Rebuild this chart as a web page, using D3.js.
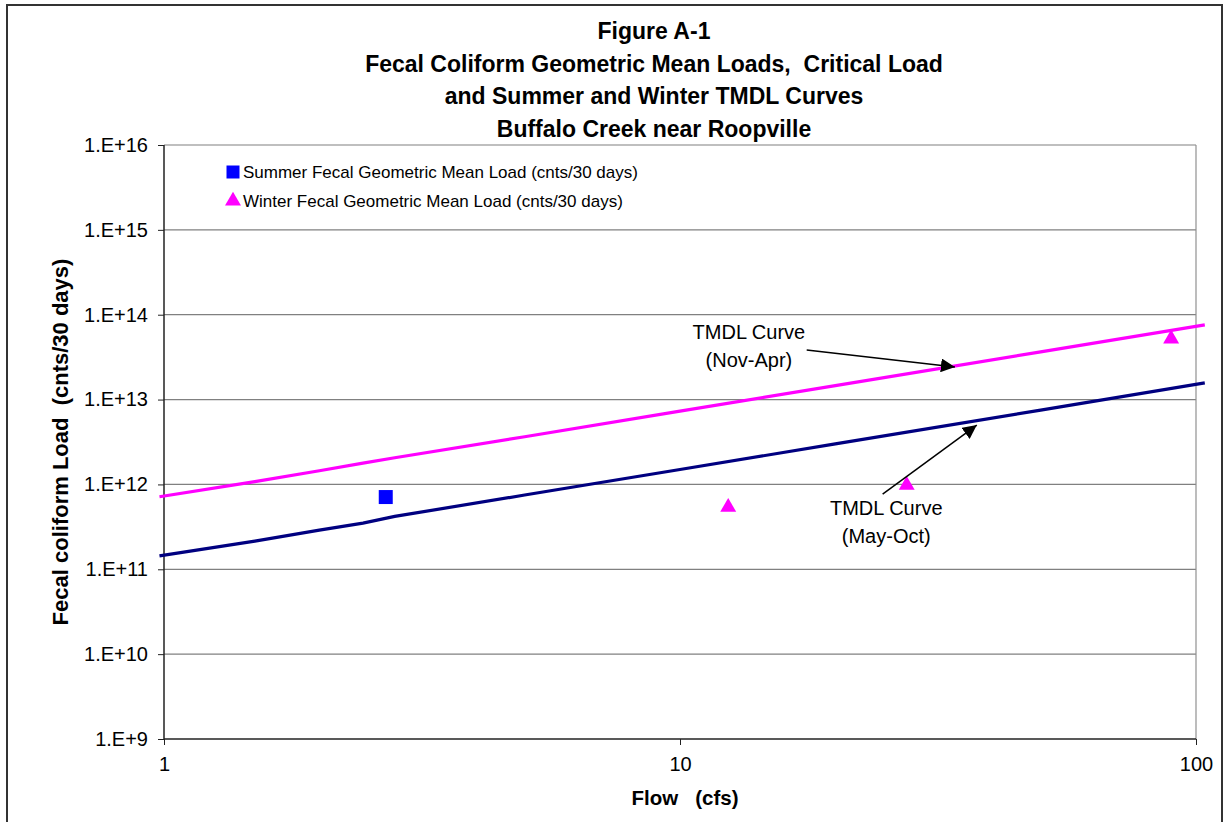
<!DOCTYPE html>
<html>
<head>
<meta charset="utf-8">
<script src="https://cdn.jsdelivr.net/npm/d3@7"></script>
<style>
  body { margin: 0; background: #fff; }
  svg text { font-family: "Liberation Sans", Arial, sans-serif; }
</style>
</head>
<body>
<svg id="chart" width="1225" height="822"></svg>
<script>
// --- Data ---
const titleLines = [
    "Figure A-1",
    "Fecal Coliform Geometric Mean Loads,  Critical Load",
    "and Summer and Winter TMDL Curves",
    "Buffalo Creek near Roopville"
];
const xTicks = [1, 10, 100];
const yTicks = [1e9, 1e10, 1e11, 1e12, 1e13, 1e14, 1e15, 1e16];

// TMDL curves (flow cfs, load cnts/30 days)
const curveFlows = [0.98, 1.5, 2, 2.43, 2.8, 5, 10, 20, 50, 104];
const summerTmdl = [1.44e11, 2.15e11, 2.9e11, 3.5e11, 4.2e11, 7.5e11, 1.5e12, 3.0e12, 7.5e12, 1.57e13];
const winterTmdl = [7.15e11, 1.08e12, 1.45e12, 1.78e12, 2.06e12, 3.65e12, 7.3e12, 1.46e13, 3.65e13, 7.6e13];

// geometric mean loads
const summerFlow = [2.69];
const summerLoad = [7.1e11];
const winterFlow = [12.4, 27.5, 89.5];
const winterLoad = [5.4e11, 9.8e11, 5.2e13];

// callouts: text anchor, arrow start, arrow tip (data units)
const callouts = [
    { lines: ["TMDL Curve", "(Nov-Apr)"], text: [13.6, 6.25e13], from: [17.6, 3.84e13], to: [34.1, 2.42e13] },
    { lines: ["TMDL Curve", "(May-Oct)"], text: [25.1, 5.27e11], from: [24.7, 7.7e11], to: [37.6, 5.0e12] }
];

const legendItems = [
    { label: "Summer Fecal Geometric Mean Load (cnts/30 days)", shape: d3.symbolSquare, color: "#0000ff" },
    { label: "Winter Fecal Geometric Mean Load (cnts/30 days)", shape: d3.symbolTriangle, color: "#ff00ff" }
];

const svg = d3.select("#chart");
const plot = { left: 164, right: 1196, top: 145, bottom: 739 };

// outer frame
svg.append("rect")
    .attr("x", 7).attr("y", 5)
    .attr("width", 1215).attr("height", 830)
    .attr("fill", "none").attr("stroke", "#333").attr("stroke-width", 2);

const x = d3.scaleLog().domain([1, 100]).range([plot.left, plot.right]);
const y = d3.scaleLog().domain([1e9, 1e16]).range([plot.bottom, plot.top]);

// --- Title ---
svg.append("g").selectAll("text")
    .data(titleLines)
    .join("text")
    .attr("x", 654)
    .attr("y", (d, i) => 39 + i * 32.7)
    .attr("text-anchor", "middle")
    .attr("font-size", 23)
    .attr("font-weight", "bold")
    .style("white-space", "pre")
    .text(d => d);

// --- Gridlines ---
svg.append("g").selectAll("line")
    .data(yTicks.slice(1))
    .join("line")
    .attr("x1", plot.left).attr("x2", plot.right)
    .attr("y1", d => y(d)).attr("y2", d => y(d))
    .attr("stroke", "#808080").attr("stroke-width", 1.2);

// right border
svg.append("line")
    .attr("x1", plot.right).attr("x2", plot.right)
    .attr("y1", plot.top).attr("y2", plot.bottom)
    .attr("stroke", "#909090").attr("stroke-width", 1.2);

// --- Axes ---
const yAxis = d3.axisLeft(y)
    .tickValues(yTicks)
    .tickSize(6)
    .tickPadding(10)
    .tickFormat(d => "1.E+" + Math.round(Math.log10(d)));
const gy = svg.append("g").attr("transform", `translate(${plot.left},0)`).call(yAxis);

const xAxis = d3.axisBottom(x)
    .tickValues(xTicks)
    .tickSize(6)
    .tickPadding(12)
    .tickFormat(d3.format("d"));
const gx = svg.append("g").attr("transform", `translate(0,${plot.bottom})`).call(xAxis);

[gx, gy].forEach(g => {
    g.select(".domain").attr("stroke", "#222").attr("stroke-width", 1.5);
    g.selectAll(".tick line").attr("stroke", "#222");
    g.selectAll(".tick text")
        .attr("font-size", 20)
        .attr("fill", "#000")
        .attr("font-family", "Liberation Sans, Arial, sans-serif");
});
gy.select(".domain").attr("d", `M0,${plot.bottom}V${plot.top}`);
gx.select(".domain").attr("d", `M${plot.left},0H${plot.right}`);

// axis titles
svg.append("text")
    .attr("x", 685).attr("y", 805)
    .attr("text-anchor", "middle")
    .attr("font-size", 20.5)
    .attr("font-weight", "bold")
    .style("white-space", "pre")
    .text("Flow   (cfs)");

svg.append("text")
    .attr("transform", `translate(68,${(plot.top + plot.bottom) / 2}) rotate(-90)`)
    .attr("text-anchor", "middle")
    .attr("font-size", 22)
    .attr("font-weight", "bold")
    .style("white-space", "pre")
    .text("Fecal coliform Load  (cnts/30 days)");

// --- Curves ---
const line = d3.line().x(d => x(d[0])).y(d => y(d[1]));

svg.append("path")
    .datum(curveFlows.map((f, i) => [f, summerTmdl[i]]))
    .attr("d", line)
    .attr("fill", "none").attr("stroke", "#000080").attr("stroke-width", 3.2);

svg.append("path")
    .datum(curveFlows.map((f, i) => [f, winterTmdl[i]]))
    .attr("d", line)
    .attr("fill", "none").attr("stroke", "#ff00ff").attr("stroke-width", 3.2);

// --- Points ---
svg.append("g").selectAll("path")
    .data(summerFlow.map((f, i) => [f, summerLoad[i]]))
    .join("path")
    .attr("transform", d => `translate(${x(d[0])},${y(d[1])})`)
    .attr("d", d3.symbol(d3.symbolSquare, 196))
    .attr("fill", "#0000ff");

svg.append("g").selectAll("path")
    .data(winterFlow.map((f, i) => [f, winterLoad[i]]))
    .join("path")
    .attr("transform", d => `translate(${x(d[0])},${y(d[1])})`)
    .attr("d", d3.symbol(d3.symbolTriangle, 110))
    .attr("fill", "#ff00ff");

// --- Legend ---
const legend = svg.append("g").attr("transform", "translate(233,172)");
const li = legend.selectAll("g")
    .data(legendItems)
    .join("g")
    .attr("transform", (d, i) => `translate(0,${i * 29})`);
li.append("path")
    .attr("d", d => d3.symbol(d.shape, d.shape === d3.symbolSquare ? 169 : 110)())
    .attr("fill", d => d.color);
li.append("text")
    .attr("x", 10).attr("y", 6)
    .attr("font-size", 17)
    .text(d => d.label);

// --- Callouts ---
svg.append("defs").append("marker")
    .attr("id", "arrow")
    .attr("viewBox", "0 0 10 10")
    .attr("refX", 10).attr("refY", 5)
    .attr("markerWidth", 14).attr("markerHeight", 14)
    .attr("markerUnits", "userSpaceOnUse")
    .attr("orient", "auto")
    .append("path").attr("d", "M0,0L10,5L0,10Z").attr("fill", "#000");

const co = svg.append("g").selectAll("g").data(callouts).join("g");
co.append("line")
    .attr("x1", d => x(d.from[0])).attr("y1", d => y(d.from[1]))
    .attr("x2", d => x(d.to[0])).attr("y2", d => y(d.to[1]))
    .attr("stroke", "#000").attr("stroke-width", 1.5)
    .attr("marker-end", "url(#arrow)");
co.each(function(d) {
    d3.select(this).selectAll("text.lbl")
        .data(d.lines)
        .join("text")
        .attr("class", "lbl")
        .attr("x", x(d.text[0]))
        .attr("y", (t, i) => y(d.text[1]) + 7 + i * 28)
        .attr("text-anchor", "middle")
        .attr("font-size", 20)
        .text(t => t);
});
</script>
</body>
</html>
